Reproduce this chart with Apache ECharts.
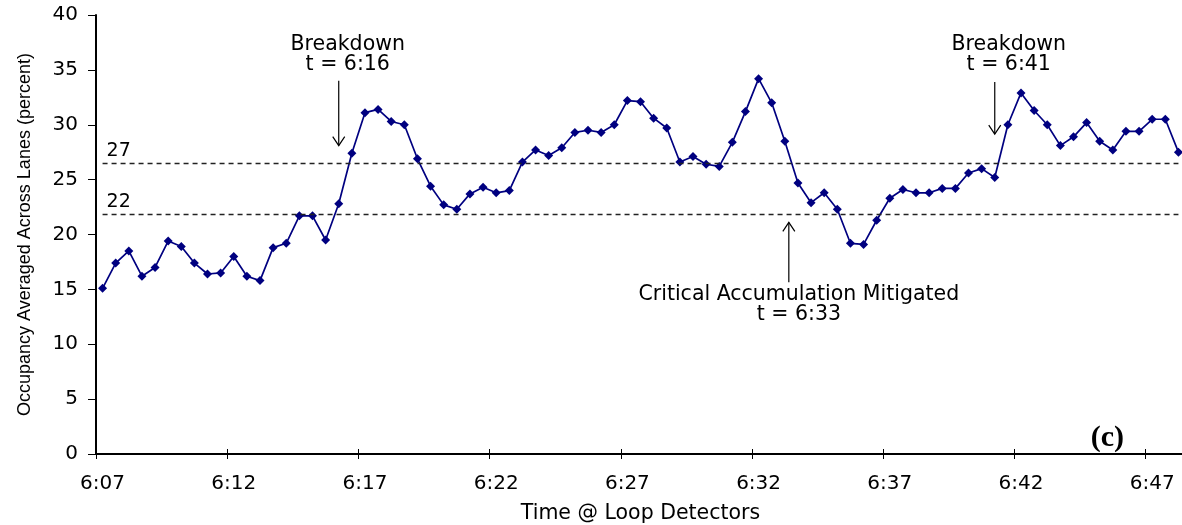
<!DOCTYPE html>
<html>
<head>
<meta charset="utf-8">
<script src="https://cdn.jsdelivr.net/npm/echarts@6/dist/echarts.min.js"></script>
<style>
html,body{margin:0;padding:0;background:#fff;}
#chart{width:1182px;height:525px;}
</style>
</head>
<body>
<div id="chart"></div>
<script>
// Time categories (30-second intervals)
const categories = [
"6:07:00","6:07:30","6:08:00","6:08:30","6:09:00","6:09:30","6:10:00","6:10:30","6:11:00","6:11:30",
"6:12:00","6:12:30","6:13:00","6:13:30","6:14:00","6:14:30","6:15:00","6:15:30","6:16:00","6:16:30",
"6:17:00","6:17:30","6:18:00","6:18:30","6:19:00","6:19:30","6:20:00","6:20:30","6:21:00","6:21:30",
"6:22:00","6:22:30","6:23:00","6:23:30","6:24:00","6:24:30","6:25:00","6:25:30","6:26:00","6:26:30",
"6:27:00","6:27:30","6:28:00","6:28:30","6:29:00","6:29:30","6:30:00","6:30:30","6:31:00","6:31:30",
"6:32:00","6:32:30","6:33:00","6:33:30","6:34:00","6:34:30","6:35:00","6:35:30","6:36:00","6:36:30",
"6:37:00","6:37:30","6:38:00","6:38:30","6:39:00","6:39:30","6:40:00","6:40:30","6:41:00","6:41:30",
"6:42:00","6:42:30","6:43:00","6:43:30","6:44:00","6:44:30","6:45:00","6:45:30","6:46:00","6:46:30",
"6:47:00","6:47:30","6:48:00"
];
// Occupancy averaged across lanes (percent)
const occupancy = [
15.1,17.4,18.5,16.2,17.0,19.4,18.9,17.4,16.4,16.5,
18.0,16.2,15.8,18.8,19.2,21.7,21.7,19.5,22.8,27.4,
31.1,31.4,30.3,30.0,26.9,24.4,22.7,22.3,23.7,24.3,
23.8,24.0,26.6,27.7,27.2,27.9,29.3,29.5,29.3,30.0,
32.2,32.1,30.6,29.7,26.6,27.1,26.4,26.2,28.4,31.2,
34.2,32.0,28.5,24.7,22.9,23.8,22.3,19.2,19.1,21.3,
23.3,24.1,23.8,23.8,24.2,24.2,25.6,26.0,25.2,30.0,
32.9,31.3,30.0,28.1,28.9,30.2,28.5,27.7,29.4,29.4,
30.5,30.5,27.5
];
// Threshold reference lines (as drawn) and their labels
const thresholdValues = [26.45, 21.8];
const thresholdLabels = ["27", "22"];
// Y-axis ticks
const yTicks = {min: 0, max: 40, interval: 5};
// Annotations
const annotationTimes = ["6:16:00", "6:41:00", "6:33:00"];
const annotationText = [["Breakdown", "t = 6:16"], ["Breakdown", "t = 6:41"], ["Critical Accumulation Mitigated", "t = 6:33"]];

const chart = echarts.init(document.getElementById('chart'), null, {renderer: 'canvas'});
const tickFont = 'DejaVu Sans';

chart.setOption({
  animation: false,
  backgroundColor: '#ffffff',
  grid: {left: 96, right: -3, top: 15, bottom: 71, containLabel: false, outerBoundsMode: 'none'},
  xAxis: [{
    type: 'category',
    data: categories,
    boundaryGap: true,
    axisLine: {show: true, lineStyle: {color: '#000', width: 2}},
    axisTick: {show: true, interval: 9, length: 5, lineStyle: {color: '#000', width: 1}},
    axisLabel: {interval: 9, formatter: v => v.slice(0, v.lastIndexOf(':')), color: '#000',
                fontFamily: tickFont, fontSize: 20, margin: 20},
    splitLine: {show: false},
    name: 'Time @ Loop Detectors',
    nameLocation: 'middle',
    nameGap: 49,
    nameTextStyle: {color: '#000', fontFamily: tickFont, fontSize: 20.5}
  }, {
    type: 'category',
    data: categories,
    boundaryGap: true,
    position: 'bottom',
    axisLine: {show: false},
    axisTick: {show: true, inside: true, interval: 9, length: 5, lineStyle: {color: '#000', width: 1}},
    axisLabel: {show: false},
    splitLine: {show: false}
  }],
  yAxis: {
    type: 'value',
    min: yTicks.min, max: yTicks.max, interval: yTicks.interval,
    axisLine: {show: true, lineStyle: {color: '#000', width: 2}},
    axisTick: {show: true, length: 8, lineStyle: {color: '#000', width: 1}},
    axisLabel: {color: '#000', fontFamily: tickFont, fontSize: 20, margin: 18},
    splitLine: {show: false},
    name: 'Occupancy Averaged Across Lanes (percent)',
    nameLocation: 'middle',
    nameRotate: 90,
    nameGap: 62,
    nameTextStyle: {color: '#000', fontFamily: 'Liberation Sans', fontSize: 18}
  },
  series: [{
    type: 'line',
    data: occupancy,
    symbol: 'diamond',
    symbolSize: 9,
    showSymbol: true,
    showAllSymbol: true,
    itemStyle: {color: '#000080'},
    lineStyle: {color: '#000080', width: 1.7},
    markLine: {
      silent: true,
      symbol: ['none', 'none'],
      lineStyle: {type: [5, 4], color: '#222', width: 1.4},
      label: {show: true, position: 'insideStartTop', distance: [4, 3], color: '#000',
              fontFamily: tickFont, fontSize: 19},
      data: thresholdValues.map((v, i) => [
        {coord: [0, v], label: {formatter: thresholdLabels[i]}},
        {coord: [categories.length - 1, v]}
      ])
    }
  }]
});

function px(cat, v) { return chart.convertToPixel({xAxisIndex: 0, yAxisIndex: 0}, [cat, v]); }

// annotation geometry in data units
const arrowSpec = [
  {dir: 'down', from: 34.0, to: 28.1, dx: 0, textDx: 9, textRows: [37.3, 35.45]},
  {dir: 'down', from: 33.9, to: 29.15, dx: 0, textDx: 14, textRows: [37.3, 35.45]},
  {dir: 'up', from: 15.66, to: 21.1, dx: 4, textDx: 14, textRows: [14.55, 12.65]}
];
const graphics = [];
annotationTimes.forEach((t, k) => {
  const s = arrowSpec[k];
  const a = px(t, s.from), b = px(t, s.to);
  const x = a[0] + s.dx;
  graphics.push({type: 'line', shape: {x1: x, y1: a[1], x2: x, y2: b[1]},
                 style: {stroke: '#000', lineWidth: 1.2}, silent: true});
  const hy = s.dir === 'down' ? -9 : 9;
  graphics.push({type: 'polyline', shape: {points: [[x - 6, b[1] + hy], [x, b[1]], [x + 6, b[1] + hy]]},
                 style: {stroke: '#000', lineWidth: 1.2, fill: null}, silent: true});
  annotationText[k].forEach((txt, r) => {
    const p = px(t, s.textRows[r]);
    graphics.push({type: 'text', x: a[0] + s.textDx, y: p[1], silent: true,
      style: {text: txt, fill: '#000', fontFamily: tickFont, fontSize: 20.5,
              align: 'center', verticalAlign: 'middle'}});
  });
});
graphics.push({type: 'text', right: 58, bottom: 72, silent: true,
  style: {text: '(c)', fill: '#000', fontFamily: 'Liberation Serif', fontWeight: 'bold', fontSize: 30}});
chart.setOption({graphic: graphics});
</script>
</body>
</html>
